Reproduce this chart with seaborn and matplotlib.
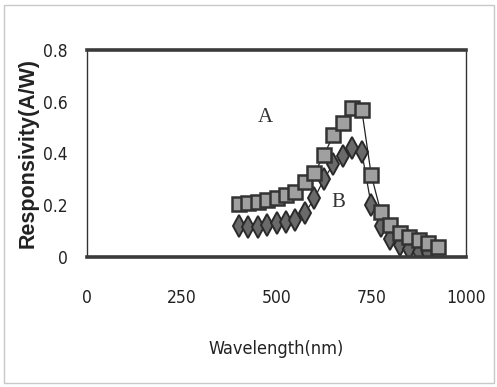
import numpy as np
import pandas as pd
import seaborn as sns
import matplotlib
matplotlib.use("Agg")
import matplotlib.pyplot as plt
from matplotlib.patches import Rectangle
from matplotlib import font_manager

# ---- data ----
wl_a = [400, 425, 450, 475, 500, 525, 550, 575, 600, 625, 650, 675, 700, 725,
        750, 775, 800, 825, 850, 875, 900, 925]
resp_a = [0.205, 0.207, 0.213, 0.220, 0.227, 0.240, 0.252, 0.290, 0.323, 0.394,
          0.470, 0.517, 0.575, 0.568, 0.317, 0.175, 0.124, 0.092, 0.079, 0.066,
          0.053, 0.040]
wl_b = [400, 425, 450, 475, 500, 525, 550, 575, 600, 625, 650, 675, 700, 725,
        750, 775, 800, 825, 850, 875, 900]
resp_b = [0.120, 0.117, 0.117, 0.124, 0.130, 0.137, 0.143, 0.169, 0.227, 0.300,
          0.360, 0.390, 0.420, 0.405, 0.200, 0.120, 0.070, 0.045, 0.030, 0.020,
          0.015]
x_ticks = [0, 250, 500, 750, 1000]
y_ticks = [0, 0.2, 0.4, 0.6, 0.8]
y_tick_labels = ["0", "0.2", "0.4", "0.6", "0.8"]

df_a = pd.DataFrame({"wl": wl_a, "r": resp_a})
df_b = pd.DataFrame({"wl": wl_b, "r": resp_b})

sns.set_style("white")
names = {f.name for f in font_manager.fontManager.ttflist}
narrow = [n for n in ["Liberation Sans Narrow", "DejaVu Sans Condensed"] if n in names]
plt.rcParams["font.family"] = narrow + ["DejaVu Sans"]
plt.rcParams["font.stretch"] = "condensed"

fig = plt.figure(figsize=(4.97, 3.87), dpi=100)
ax = fig.add_axes([87 / 497, 1 - 257 / 387, (466 - 87) / 497, (257 - 50) / 387])

sns.lineplot(data=df_a, x="wl", y="r", ax=ax, color="#222222", lw=0.9,
             marker="s", markersize=9.5, markerfacecolor="#a0a0a0",
             markeredgecolor="#333333", markeredgewidth=1.8, zorder=3)
sns.lineplot(data=df_b, x="wl", y="r", ax=ax, color="#222222", lw=0.9,
             marker="d", markersize=11, markerfacecolor="#6a6a6a",
             markeredgecolor="#2a2a2a", markeredgewidth=1.4, zorder=2)

ax.set_xlim(0, 1000)
ax.set_ylim(0, 0.8)
ax.set_xticks(x_ticks)
ax.set_xticklabels([str(t) for t in x_ticks])
ax.set_yticks(y_ticks)
ax.set_yticklabels(y_tick_labels)
ax.tick_params(axis="both", which="both", direction="out", length=5, width=1,
               color="#333333", labelsize=12.5, labelcolor="#222222")
ax.tick_params(axis="x", pad=18)
ax.tick_params(axis="y", pad=9)

for s in ["top", "bottom"]:
    ax.spines[s].set_linewidth(2.6)
    ax.spines[s].set_color("#3a3a3a")
for s in ["left", "right"]:
    ax.spines[s].set_linewidth(1.0)
    ax.spines[s].set_color("#333333")

ax.set_xlabel("Wavelength(nm)", fontsize=13, color="#222222", labelpad=24)
ylab_font = font_manager.FontProperties(family="Liberation Sans", weight="bold",
                                        stretch="normal", size=15.5)
ax.set_ylabel("Responsivity(A/W)", fontproperties=ylab_font,
              color="#222222", labelpad=3)

ax.text(0.45, 0.65, "A", transform=ax.transAxes, fontsize=15,
        family=["Liberation Serif", "DejaVu Serif"], color="#333333")
ax.text(0.645, 0.24, "B", transform=ax.transAxes, fontsize=15,
        family=["Liberation Serif", "DejaVu Serif"], color="#333333")

fig.patches.append(Rectangle((4 / 497, 4 / 387), 490 / 497, 378 / 387,
                             transform=fig.transFigure, fill=False,
                             edgecolor="#c8c8c8", lw=1.0))

fig.savefig("out.png", dpi=100, facecolor="white")
